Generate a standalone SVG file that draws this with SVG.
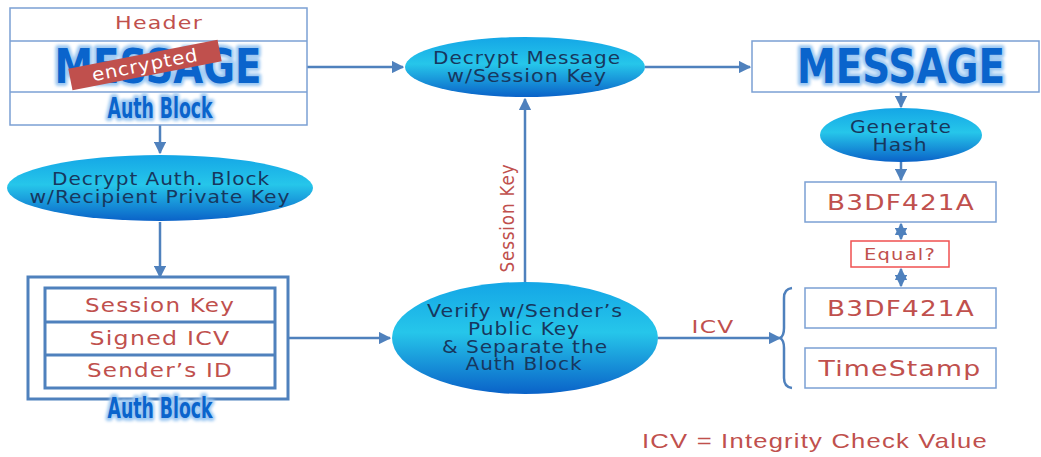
<svg xmlns="http://www.w3.org/2000/svg" width="1041" height="457" viewBox="0 0 1041 457">
  <defs>
    <linearGradient id="bubble" x1="0" y1="0" x2="0" y2="1">
      <stop offset="0" stop-color="#14a6e6"/>
      <stop offset="0.45" stop-color="#26c6ea"/>
      <stop offset="1" stop-color="#0a62c8"/>
    </linearGradient>
    <filter id="glow" x="-10%" y="-30%" width="120%" height="160%">
      <feGaussianBlur stdDeviation="1.6"/>
    </filter>
    <marker id="arr" viewBox="0 0 10 10" refX="9" refY="5" markerWidth="5" markerHeight="5" orient="auto-start-reverse">
      <path d="M0,0 L10,5 L0,10 z" fill="#4f81bd"/>
    </marker>
  </defs>
  <style>
    .box { fill: #ffffff; stroke: #7ba0d4; stroke-width: 1.5; }
    .thick { fill: #ffffff; stroke: #4f81bd; stroke-width: 3; }
    .bubble { fill: url(#bubble); }
    .red { font-family: "DejaVu Sans", "Liberation Sans", sans-serif; fill: #c0504d; text-anchor: middle; letter-spacing: 1px; }
    .navy { font-family: "DejaVu Sans", "Liberation Sans", sans-serif; fill: #17375e; text-anchor: middle; font-size: 17px; letter-spacing: 0.8px; }
    .big { font-family: "Liberation Sans Narrow", "DejaVu Sans Condensed", "Liberation Sans", sans-serif; font-weight: bold; text-anchor: middle; }
    .halo { fill: #9cc8f2; stroke: #9cc8f2; stroke-width: 6; stroke-linejoin: round; filter: url(#glow); }
    .ink { fill: #0a64cc; }
    .edge { fill: none; stroke: #4f81bd; stroke-width: 2.5; }
  </style>

  <!-- connectors -->
  <g id="connectors">
    <path class="edge" d="M160,125 V153" marker-end="url(#arr)"/>
    <path class="edge" d="M160,222 V277" marker-end="url(#arr)"/>
    <path class="edge" d="M307,67 H403" marker-end="url(#arr)"/>
    <path class="edge" d="M645,67 H750" marker-end="url(#arr)"/>
    <path class="edge" d="M288,338 H390" marker-end="url(#arr)"/>
    <path class="edge" d="M525,282 V99" marker-end="url(#arr)"/>
    <path class="edge" d="M658,338 H780" marker-end="url(#arr)"/>
    <path class="edge" d="M901,92 V107" marker-end="url(#arr)"/>
    <path class="edge" d="M901,162 V180" marker-end="url(#arr)"/>
    <path class="edge" d="M901,224 V239" marker-start="url(#arr)" marker-end="url(#arr)"/>
    <path class="edge" d="M901,269 V286" marker-start="url(#arr)" marker-end="url(#arr)"/>
    <path class="edge" stroke-width="3" d="M792,288 Q784,289 784,298 V328 Q784,336 780,338 Q784,340 784,348 V378 Q784,387 792,388"/>
    <text class="red" font-size="19" transform="translate(514,218) rotate(-90)" textLength="109" lengthAdjust="spacingAndGlyphs">Session Key</text>
    <text class="red" font-size="18" x="713" y="333" textLength="43" lengthAdjust="spacingAndGlyphs">ICV</text>
  </g>

  <!-- incoming encrypted packet -->
  <g id="packet">
    <rect class="box" x="10" y="8" width="297" height="117"/>
    <line class="box" x1="10" y1="41" x2="307" y2="41"/>
    <line class="box" x1="10" y1="92" x2="307" y2="92"/>
    <text class="red" font-size="18" x="159" y="29" textLength="88" lengthAdjust="spacingAndGlyphs">Header</text>
    <text class="big halo" font-size="48" x="158" y="83" textLength="207" lengthAdjust="spacingAndGlyphs">MESSAGE</text>
    <text class="big ink" font-size="48" x="158" y="83" textLength="207" lengthAdjust="spacingAndGlyphs">MESSAGE</text>
    <g transform="translate(145,65) rotate(-11)">
      <rect x="-76" y="-11" width="152" height="22" fill="#c0504d"/>
      <text font-family="DejaVu Sans, sans-serif" font-size="18" fill="#ffffff" text-anchor="middle" y="6" letter-spacing="0.8" textLength="108" lengthAdjust="spacingAndGlyphs">encrypted</text>
    </g>
    <text class="big halo" font-size="29" x="160" y="118" textLength="105" lengthAdjust="spacingAndGlyphs">Auth Block</text>
    <text class="big ink" font-size="29" x="160" y="118" textLength="105" lengthAdjust="spacingAndGlyphs">Auth Block</text>
  </g>

  <g id="decrypt-auth">
    <ellipse class="bubble" cx="160" cy="188" rx="153" ry="33"/>
    <text class="navy" x="161" y="185" textLength="218" lengthAdjust="spacingAndGlyphs">Decrypt Auth. Block</text>
    <text class="navy" x="160" y="203" textLength="261" lengthAdjust="spacingAndGlyphs">w/Recipient Private Key</text>
  </g>

  <g id="auth-block">
    <rect class="thick" x="28" y="277" width="260" height="122"/>
    <rect class="thick" x="45" y="288" width="230" height="100"/>
    <line class="thick" x1="45" y1="322" x2="275" y2="322"/>
    <line class="thick" x1="45" y1="355" x2="275" y2="355"/>
    <text class="red" font-size="19" x="160" y="312" textLength="150" lengthAdjust="spacingAndGlyphs">Session Key</text>
    <text class="red" font-size="19" x="160" y="345" textLength="141" lengthAdjust="spacingAndGlyphs">Signed ICV</text>
    <text class="red" font-size="19" x="160" y="377" textLength="146" lengthAdjust="spacingAndGlyphs">Sender’s ID</text>
    <text class="big halo" font-size="29" x="160" y="418" textLength="105" lengthAdjust="spacingAndGlyphs">Auth Block</text>
    <text class="big ink" font-size="29" x="160" y="418" textLength="105" lengthAdjust="spacingAndGlyphs">Auth Block</text>
  </g>

  <g id="decrypt-message">
    <ellipse class="bubble" cx="525" cy="67" rx="120" ry="30"/>
    <text class="navy" x="527" y="64" textLength="188" lengthAdjust="spacingAndGlyphs">Decrypt Message</text>
    <text class="navy" x="527" y="82" textLength="160" lengthAdjust="spacingAndGlyphs">w/Session Key</text>
  </g>

  <g id="verify">
    <ellipse class="bubble" cx="525" cy="338" rx="133" ry="56"/>
    <text class="navy" x="525" y="317" font-size="16.5" textLength="196" lengthAdjust="spacingAndGlyphs">Verify w/Sender’s</text>
    <text class="navy" x="524" y="335" font-size="16.5" textLength="112" lengthAdjust="spacingAndGlyphs">Public Key</text>
    <text class="navy" x="525" y="353" font-size="16.5" textLength="166" lengthAdjust="spacingAndGlyphs">&amp; Separate the</text>
    <text class="navy" x="524" y="370" font-size="16.5" textLength="117" lengthAdjust="spacingAndGlyphs">Auth Block</text>
  </g>

  <g id="message">
    <rect class="box" x="752" y="41" width="287" height="51"/>
    <text class="big halo" font-size="48" x="901" y="83" textLength="208" lengthAdjust="spacingAndGlyphs">MESSAGE</text>
    <text class="big ink" font-size="48" x="901" y="83" textLength="208" lengthAdjust="spacingAndGlyphs">MESSAGE</text>
  </g>

  <g id="hash">
    <ellipse class="bubble" cx="901" cy="135" rx="81" ry="27"/>
    <text class="navy" x="901" y="133" textLength="102" lengthAdjust="spacingAndGlyphs">Generate</text>
    <text class="navy" x="900" y="151" textLength="55" lengthAdjust="spacingAndGlyphs">Hash</text>
  </g>

  <g id="hash-value">
    <rect class="box" x="805" y="182" width="191" height="40"/>
    <text class="red" font-size="22" x="901" y="210" textLength="148" lengthAdjust="spacingAndGlyphs">B3DF421A</text>
  </g>

  <g id="equal">
    <rect x="851" y="241" width="98" height="26" fill="#ffffff" stroke="#f05050" stroke-width="1.5"/>
    <text class="red" font-size="16" x="900" y="260" textLength="72" lengthAdjust="spacingAndGlyphs">Equal?</text>
  </g>

  <g id="icv-value">
    <rect class="box" x="805" y="288" width="191" height="40"/>
    <text class="red" font-size="22" x="901" y="316" textLength="148" lengthAdjust="spacingAndGlyphs">B3DF421A</text>
  </g>

  <g id="timestamp">
    <rect class="box" x="805" y="348" width="191" height="40"/>
    <text class="red" font-size="22" x="900" y="376" textLength="163" lengthAdjust="spacingAndGlyphs">TimeStamp</text>
  </g>

  <g id="legend">
    <text font-family="'Liberation Sans', Arial, sans-serif" font-size="21" fill="#c0504d" x="642" y="448" letter-spacing="1" textLength="346" lengthAdjust="spacingAndGlyphs">ICV = Integrity Check Value</text>
  </g>
</svg>
